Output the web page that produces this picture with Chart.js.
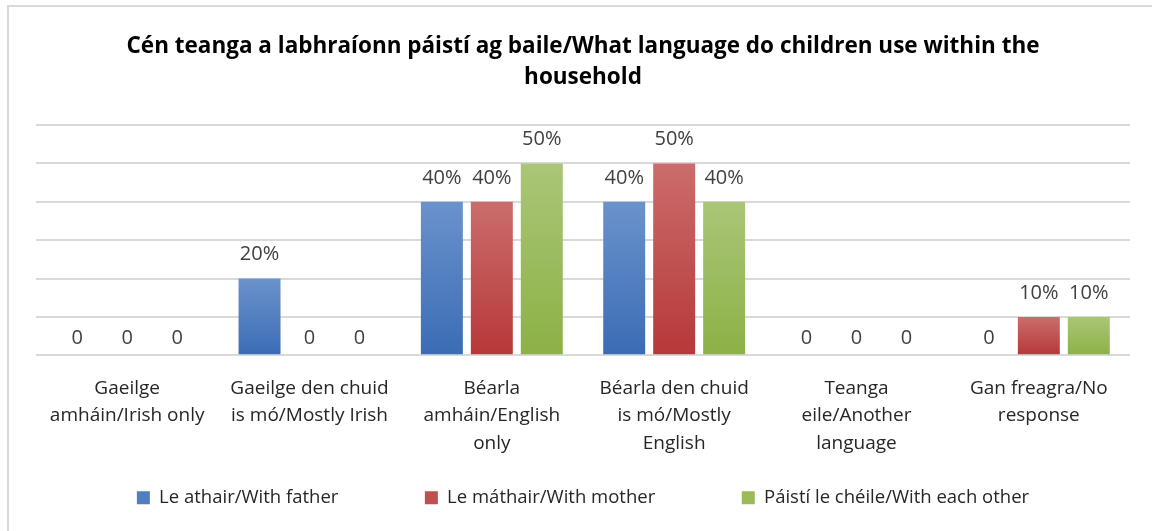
<!DOCTYPE html>
<html>
<head>
<meta charset="utf-8">
<script src="https://cdn.jsdelivr.net/npm/chart.js@4/dist/chart.umd.min.js"></script>
<style>
  body { margin: 0; background: #fff; }
  #wrap { position: relative; width: 1152px; height: 531px; overflow: hidden; }
  #frame { position: absolute; left: 7px; top: 5px; width: 1200px; height: 600px;
           border-left: 2px solid #d9d9d9; border-top: 2px solid #d9d9d9; }
  canvas { position: absolute; left: 0; top: 0; }
</style>
</head>
<body>
<div id="wrap">
  <div id="frame"></div>
  <canvas id="grafico" width="1152" height="531"></canvas>
</div>
<script>
// Categorías y valores (%)
const categorias = [
    ['Gaeilge', 'amháin/Irish only'],
    ['Gaeilge den chuid', 'is mó/Mostly Irish'],
    ['Béarla', 'amháin/English', 'only'],
    ['Béarla den chuid', 'is mó/Mostly', 'English'],
    ['Teanga', 'eile/Another', 'language'],
    ['Gan freagra/No', 'response']
];
const conPadre = [0, 20, 40, 40, 0, 0];
const conMadre = [0, 0, 40, 50, 0, 10];
const entreEllos = [0, 0, 50, 40, 0, 10];
const titulo = ['Cén teanga a labhraíonn páistí ag baile/What language do children use within the', 'household'];

const fuente = '"Open Sans", sans-serif';

// Degradado por barra: arriba claro, abajo oscuro
function degradado(claro, oscuro) {
    return function(ctx) {
        if (ctx.type !== 'data' || !ctx.chart.scales.y) return oscuro;
        const y = ctx.chart.scales.y;
        const top = y.getPixelForValue(ctx.raw);
        const base = y.getPixelForValue(0);
        if (!isFinite(top) || base - top < 1) return oscuro;
        const g = ctx.chart.ctx.createLinearGradient(0, top, 0, base);
        g.addColorStop(0, claro);
        g.addColorStop(1, oscuro);
        return g;
    };
}

// Etiquetas de datos encima de cada barra
const etiquetas = {
    id: 'etiquetas',
    afterDatasetsDraw(chart) {
        const c = chart.ctx;
        c.save();
        c.font = '20px ' + fuente;
        c.fillStyle = '#404040';
        c.textAlign = 'center';
        c.textBaseline = 'middle';
        chart.data.datasets.forEach((ds, i) => {
            chart.getDatasetMeta(i).data.forEach((bar, j) => {
                const v = ds.data[j];
                const txt = v === 0 ? '0' : v + '%';
                const off = v === 0 ? 17 : 24;
                c.fillText(txt, bar.x, bar.y - off);
            });
        });
        c.restore();
    }
};

const colLeyenda = ['#4f7fc0', '#c04f4f', '#9bbb59'];
const espacio = '\u2003\u2003\u2003\u2003';

new Chart(document.getElementById('grafico'), {
    type: 'bar',
    data: {
        labels: categorias,
        datasets: [
            { label: 'Le athair/With father', data: conPadre,
              backgroundColor: degradado('#6b92cc', '#3a6cb4') },
            { label: 'Le máthair/With mother', data: conMadre,
              backgroundColor: degradado('#ca6d6c', '#b73838') },
            { label: 'Páistí le chéile/With each other', data: entreEllos,
              backgroundColor: degradado('#aac677', '#8cb146') }
        ]
    },
    options: {
        responsive: false,
        animation: false,
        layout: { padding: { left: 36, right: 22, top: 0, bottom: 14 } },
        datasets: { bar: { categoryPercentage: 0.822, barPercentage: 0.84 } },
        plugins: {
            title: {
                display: true,
                text: titulo,
                color: '#000',
                font: { family: fuente, size: 22.5, weight: 'bold', lineHeight: 1.38 },
                padding: { top: 31, bottom: 32 }
            },
            legend: {
                position: 'bottom',
                labels: {
                    color: '#262626',
                    font: { family: fuente, size: 18.5 },
                    boxWidth: 13, boxHeight: 13, padding: 12.5,
                    generateLabels(chart) {
                        const n = chart.data.datasets.length;
                        return chart.data.datasets.map((ds, i) => ({
                            text: ds.label + (i < n - 1 ? espacio : ''),
                            fillStyle: colLeyenda[i], strokeStyle: colLeyenda[i],
                            lineWidth: 0, datasetIndex: i, fontColor: '#262626'
                        }));
                    }
                }
            },
            tooltip: { enabled: false }
        },
        scales: {
            x: {
                grid: { display: false, drawTicks: false },
                border: { display: false },
                ticks: {
                    color: '#262626', padding: 19, maxRotation: 0, autoSkip: false,
                    font: { family: fuente, size: 19, lineHeight: 1.45 }
                }
            },
            y: {
                min: 0, max: 60,
                ticks: { display: false, stepSize: 10 },
                grid: { color: '#d9d9d9', lineWidth: 2, drawTicks: false },
                border: { display: false }
            }
        }
    },
    plugins: [etiquetas]
});
</script>
</body>
</html>
